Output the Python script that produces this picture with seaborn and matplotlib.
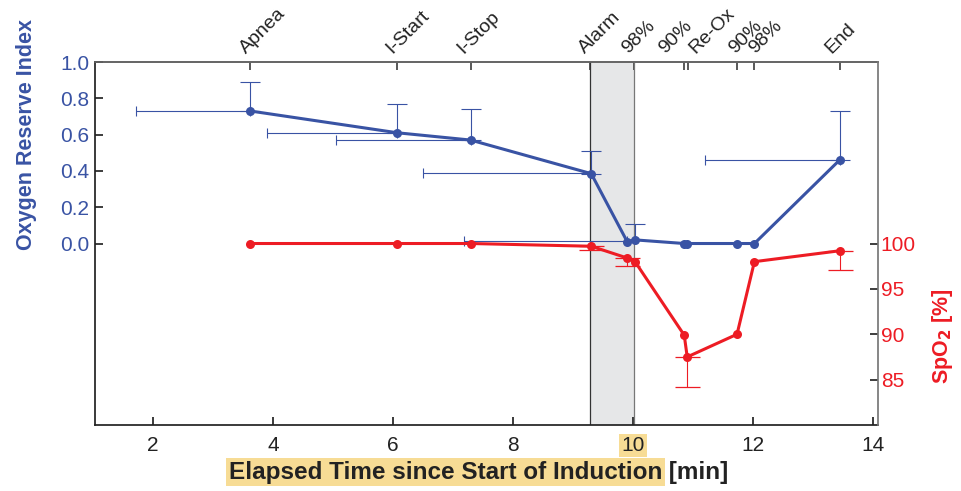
import numpy as np
import matplotlib
matplotlib.use("Agg")
import matplotlib.pyplot as plt
import matplotlib.transforms as mtransforms
import seaborn as sns

# time points (min) shared by both series
time_min = [3.62, 6.07, 7.29, 9.30, 9.90, 10.03, 10.85, 10.90, 11.73, 12.02, 13.44]
ori = [0.73, 0.61, 0.57, 0.385, 0.01, 0.02, 0.0, 0.0, 0.0, 0.0, 0.46]
spo2 = [100.0, 100.0, 100.0, 99.7, 98.4, 98.0, 89.9, 87.5, 90.0, 98.0, 99.2]

# ORI error bars: upper whisker (vertical) and left whisker (horizontal)
ori_err_x = [3.62, 6.07, 7.29, 9.30, 10.03, 13.44]
ori_err_y = [0.73, 0.61, 0.57, 0.385, 0.02, 0.46]
ori_err_up = [0.16, 0.16, 0.17, 0.125, 0.09, 0.27]
ori_h_x = [3.62, 6.07, 7.29, 9.30, 9.90, 13.44]
ori_h_y = [0.73, 0.61, 0.57, 0.39, 0.013, 0.46]
ori_h_left = [1.90, 2.17, 2.24, 2.80, 2.72, 2.24]

# SpO2 error bars: lower whisker only
spo2_err_x = [9.30, 9.90, 10.90, 13.44]
spo2_err_y = [99.7, 98.4, 87.5, 99.2]
spo2_err_low = [0.4, 0.9, 3.3, 2.1]

# events on top axis
event_ticks = [3.62, 6.07, 7.29, 9.28, 10.02, 10.85, 10.92, 11.73, 12.02, 13.44]
event_labels = ["Apnea", "I-Start", "I-Stop", "Alarm", "98%", "90%", "Re-Ox", "90%", "98%", "End"]
event_label_x = [3.59, 6.03, 7.21, 9.24, 9.96, 10.58, 11.08, 11.75, 12.08, 13.35]

alarm_span = (9.28, 10.02)

blue = "#3953a4"
red = "#ed1c24"
hilite = "#f7dc95"

sns.set_theme(style="ticks")
plt.rcParams["font.family"] = ["Liberation Sans", "DejaVu Sans"]

fig = plt.figure(figsize=(9.62, 4.91), dpi=100)
ax = fig.add_axes([0.0988, 0.1344, 0.8139, 0.7393])

# alarm period
ax.axvspan(*alarm_span, facecolor="#e6e7e8", edgecolor="none", zorder=0)
ax.axvline(alarm_span[0], color="#333333", lw=0.9, zorder=1)
ax.axvline(alarm_span[1], color="#777777", lw=0.9, zorder=1)

# ORI
ax.errorbar(ori_err_x, ori_err_y, yerr=[np.zeros(len(ori_err_up)), ori_err_up],
            fmt="none", ecolor=blue, elinewidth=0.8, capsize=7, capthick=0.8, zorder=2)
ax.errorbar(ori_h_x, ori_h_y, xerr=[ori_h_left, np.zeros(len(ori_h_left))],
            fmt="none", ecolor=blue, elinewidth=0.8, capsize=3.5, capthick=0.8, zorder=2)
sns.lineplot(x=time_min, y=ori, ax=ax, sort=False, color=blue, lw=2.2,
             marker="o", markersize=6.5, markeredgewidth=0, zorder=3)

ax.set_xlim(1.03, 14.08)
ax.set_ylim(-1.0, 1.0)
ax.set_xticks([2, 4, 6, 8, 10, 12, 14])
ax.set_yticks([0.0, 0.2, 0.4, 0.6, 0.8, 1.0])
ax.set_yticklabels([f"{v:.1f}" for v in [0.0, 0.2, 0.4, 0.6, 0.8, 1.0]])
ax.tick_params(axis="x", direction="in", length=6, labelsize=15, colors="#222222", pad=8)
ax.tick_params(axis="y", direction="in", length=6, labelsize=15, labelcolor=blue, pad=4)
for lab in ax.get_xticklabels():
    if lab.get_text() == "10":
        lab.set_bbox(dict(facecolor=hilite, edgecolor="none", pad=1.5))
ax.set_ylabel("Oxygen Reserve Index", color=blue, fontsize=15.5, fontweight="bold")
ax.yaxis.set_label_coords(-0.074, 0.80)
for s in ["left", "bottom"]:
    ax.spines[s].set_color("#222222")
ax.spines["top"].set_color("#666666")
ax.spines["right"].set_visible(False)

# SpO2 on right axis
ax2 = ax.twinx()
ax2.errorbar(spo2_err_x, spo2_err_y, yerr=[spo2_err_low, np.zeros(len(spo2_err_low))],
             fmt="none", ecolor=red, elinewidth=0.8, capsize=9, capthick=0.9, zorder=2)
sns.lineplot(x=time_min, y=spo2, ax=ax2, sort=False, color=red, lw=2.2,
             marker="o", markersize=6.5, markeredgewidth=0, zorder=3)
ax2.set_ylim(80, 120)
ax2.set_yticks([85, 90, 95, 100])
ax2.tick_params(axis="y", direction="in", length=6, labelsize=15, labelcolor=red, pad=2)
ax2.set_ylabel("SpO$_\\mathbf{2}$ [%]", color=red, fontsize=15.5, fontweight="bold",
               rotation=90, va="center")
ax2.yaxis.set_label_coords(1.082, 0.245)
ax2.spines["right"].set_color("#777777")
for s in ["left", "top", "bottom"]:
    ax2.spines[s].set_visible(False)

# top event axis
top = ax.secondary_xaxis("top")
top.set_xticks(event_ticks)
top.set_xticklabels([""] * len(event_ticks))
top.tick_params(direction="in", length=6, colors="#444444")
top.spines["top"].set_color("#666666")
trans = mtransforms.blended_transform_factory(ax.transData, ax.transAxes)
for xv, lab in zip(event_label_x, event_labels):
    ax.text(xv, 1.015, lab, transform=trans, rotation=45, rotation_mode="anchor",
            ha="left", va="bottom", fontsize=14, color="#222222", clip_on=False)

# x label with highlighted part
t1 = ax.text(0.724, -0.13, "Elapsed Time since Start of Induction", transform=ax.transAxes,
             ha="right", va="center", fontsize=17.5, fontweight="bold", color="#222222",
             bbox=dict(facecolor=hilite, edgecolor="none", pad=2))
ax.annotate(" [min]", xy=(1, 0.5), xycoords=t1, ha="left", va="center",
            fontsize=17.5, fontweight="bold", color="#222222")

ax.set_zorder(ax2.get_zorder() - 1)
ax.patch.set_visible(True)
ax2.patch.set_visible(False)

fig.savefig("out.png", dpi=100)
